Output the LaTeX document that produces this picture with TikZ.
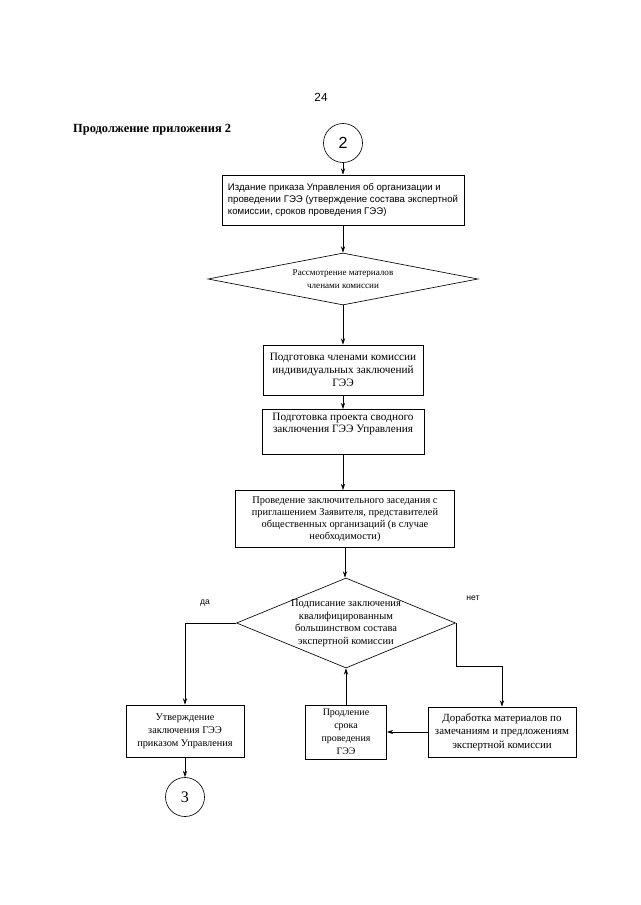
\documentclass[tikz,border=0pt]{standalone}
\usepackage{fontspec}
\setmainfont{Liberation Serif}
\newfontfamily\sansf{Liberation Sans}
\usetikzlibrary{arrows.meta,shapes.geometric}
\def\pxu{0.0328cm}
\begin{document}
\begin{tikzpicture}[x=0.0328cm,y=-0.0328cm,
  box/.style={draw, line width=0.6pt, align=center, inner sep=1pt, font=\fontsize{9.7}{11.2}\selectfont},
  sbox/.style={box, font=\sansf\fontsize{9}{10.8}\selectfont},
  dia/.style={draw, diamond, line width=0.6pt, inner sep=0pt},
  dtext/.style={align=center, inner sep=0pt, font=\fontsize{9.8}{11.8}\selectfont},
  conn/.style={circle, draw, line width=0.6pt, minimum size=39*\pxu, inner sep=0pt, font=\fontsize{15}{15}\selectfont},
  arr/.style={-{Stealth[length=6pt,width=4pt]}, line width=0.6pt},
  lbl/.style={inner sep=0pt}
]
\useasboundingbox (0,0) rectangle (640,905);

\node[lbl, font=\sansf\fontsize{11}{11}\selectfont] (page) at (321,97) {24};
\node[lbl, anchor=west, font=\bfseries\fontsize{11.6}{11.6}\selectfont] (title) at (73,130) {Продолжение приложения 2};

\node[conn, font=\sansf\fontsize{15}{15}\selectfont] (c2) at (343,143) {2};

\node[sbox, align=left, minimum width=242*\pxu, minimum height=50*\pxu] (b1) at (343,200)
  {Издание приказа Управления об организации и\\проведении ГЭЭ (утверждение состава экспертной\\комиссии, сроков проведения ГЭЭ)};

\node[dia, minimum width=270*\pxu, minimum height=52*\pxu] (d1) at (343,279) {};
\node[dtext, font=\fontsize{8.5}{12.5}\selectfont] (d1t) at (d1) {Рассмотрение материалов\\членами комиссии};

\node[box, font=\fontsize{10.5}{12}\selectfont, minimum width=160*\pxu, minimum height=50*\pxu] (b2) at (343,370)
  {Подготовка членами комиссии\\индивидуальных заключений\\ГЭЭ};

\node[box, font=\fontsize{10.5}{11.5}\selectfont, minimum width=162*\pxu, minimum height=45*\pxu] (b3) at (343,432)
  {Подготовка проекта сводного\\заключения ГЭЭ Управления\\[6pt]};

\node[box, minimum width=219*\pxu, minimum height=57*\pxu] (b4) at (345,519)
  {Проведение заключительного заседания с\\приглашением Заявителя, представителей\\общественных организаций (в случае\\необходимости)};

\node[dia, minimum width=219*\pxu, minimum height=90*\pxu] (d2) at (346,623) {};
\node[dtext] (d2t) at (d2) {Подписание заключения\\квалифицированным\\большинством состава\\экспертной комиссии};

\node[lbl, font=\sansf\fontsize{8}{8}\selectfont] (yes) at (205,603) {да};
\node[lbl, font=\sansf\fontsize{8}{8}\selectfont] (no) at (473,598) {нет};

\node[box, font=\fontsize{9.6}{12}\selectfont, minimum width=118*\pxu, minimum height=52*\pxu] (b5) at (185,731)
  {Утверждение\\заключения ГЭЭ\\приказом Управления};

\node[conn] (c3) at (185,797) {3};

\node[box, font=\fontsize{9.3}{12.2}\selectfont, minimum width=81*\pxu, minimum height=54*\pxu] (b7) at (346,732)
  {Продление\\срока\\проведения\\ГЭЭ};

\node[box, font=\fontsize{10.2}{12.5}\selectfont, minimum width=148*\pxu, minimum height=50*\pxu] (b6) at (502,732)
  {Доработка материалов по\\замечаниям и предложениям\\экспертной комиссии};

\draw[arr] (c2) -- (b1);
\draw[arr] (b1) -- (b1 |- d1.north);
\draw[arr] (d1.south) -- (b2);
\draw[arr] (b2) -- (b3);
\draw[arr] (b3) -- (b3 |- b4.north);
\draw[arr] (b4.south) -- (b4.south |- d2.north);
\draw[arr] (d2.west) -| (b5.north);
\draw[arr] (b5) -- (c3);
\draw[arr] (d2.east) -- ++(0,43) -| (b6.north);
\draw[arr] (b6.west) -- (b7.east);
\draw[arr] (b7.north) -- (d2.south);
\end{tikzpicture}
\end{document}
